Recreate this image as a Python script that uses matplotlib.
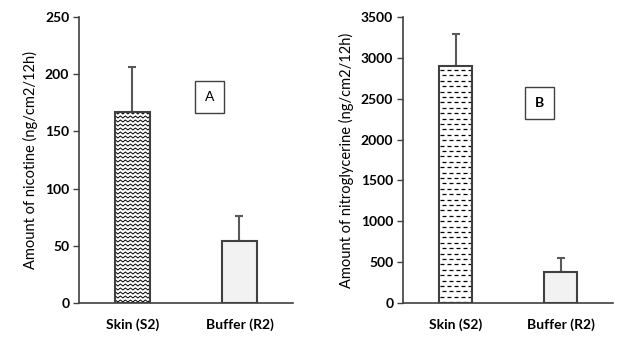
import numpy as np
import matplotlib.pyplot as plt

categories = ['Skin (S2)', 'Buffer (R2)']
nicotine = [167, 54]
nicotine_err = [39, 22]
nitro = [2900, 380]
nitro_err = [390, 170]

plt.rcParams['font.family'] = ['Lato', 'DejaVu Sans']
edge = '#404040'


def zigzag_fill(ax, bar, period=5, dy=4, amp=1.0):
    # zigzag pattern drawn in pixel steps, clipped to the bar
    x0, y0 = ax.transData.transform((bar.get_x(), bar.get_y()))
    x1, y1 = ax.transData.transform((bar.get_x() + bar.get_width(), bar.get_y() + bar.get_height()))
    inv = ax.transData.inverted()
    xs = np.arange(x0 - period, x1 + period, period / 2)
    for yy in np.arange(y0 + 2, y1 + dy, dy):
        ys = yy + amp * np.where(np.arange(len(xs)) % 2 == 0, 1, -1)
        pts = inv.transform(np.column_stack([xs, ys]))
        ln, = ax.plot(pts[:, 0], pts[:, 1], color='black', lw=0.7, zorder=2.5)
        ln.set_clip_path(bar)


def dash_fill(ax, bar, dy=5.4, dash=4, gap=3):
    x0, y0 = ax.transData.transform((bar.get_x(), bar.get_y()))
    x1, y1 = ax.transData.transform((bar.get_x() + bar.get_width(), bar.get_y() + bar.get_height()))
    inv = ax.transData.inverted()
    for i, yy in enumerate(np.arange(y1 - 4, y0, -dy)):
        xs = x0 + 1 + (i % 2) * 2
        while xs < x1:
            p = inv.transform([[xs, yy], [min(xs + dash, x1), yy]])
            ln, = ax.plot(p[:, 0], p[:, 1], color='black', lw=0.9, zorder=2.5,
                          solid_capstyle='butt')
            ln.set_clip_path(bar)
            xs += dash + gap


fig = plt.figure(figsize=(6.29, 3.51), dpi=100)
axA = fig.add_axes([0.1256, 0.1368, 0.3402, 0.8148])
axB = fig.add_axes([0.6407, 0.1368, 0.3339, 0.8148])

for ax, vals, errs, ymax, step, label, tag, tagpos in [
        (axA, nicotine, nicotine_err, 250, 50, 'Amount of nicotine (ng/cm2/12h)', 'A', (0.72, 180)),
        (axB, nitro, nitro_err, 3500, 500, 'Amount of nitroglycerine (ng/cm2/12h)', 'B', (0.8, 2448))]:
    x = np.arange(len(categories))
    ax.bar(x, vals, width=0.32, color=['white', '#f2f2f2'], edgecolor='none', zorder=2)
    ax.bar(x, vals, width=0.32, color='none', edgecolor=edge, linewidth=1.5, zorder=3)
    ax.errorbar(x, vals, yerr=[[0] * len(errs), errs], fmt='none', ecolor='#595959',
                elinewidth=1.5, capsize=3, capthick=1.5, zorder=1)
    ax.set_xlim(-0.5, 1.5)
    ax.set_ylim(0, ymax)
    ax.set_yticks(np.arange(0, ymax + 1, step))
    ax.set_xticks(x)
    ax.set_xticklabels(categories, fontweight='bold', fontsize=10)
    for t in ax.get_yticklabels():
        t.set_fontweight('bold')
        t.set_fontsize(10)
    ax.tick_params(axis='x', length=0, pad=11)
    ax.tick_params(axis='y', length=4, color=edge, width=1, pad=3)
    ax.set_ylabel(label, fontsize=10.5, labelpad=5)
    for s in ['top', 'right']:
        ax.spines[s].set_visible(False)
    for s in ['left', 'bottom']:
        ax.spines[s].set_color(edge)
        ax.spines[s].set_linewidth(1.2)
    ax.text(tagpos[0], tagpos[1], tag, ha='center', va='center', fontsize=10,
            fontweight='bold' if tag == 'B' else 'normal',
            bbox=dict(boxstyle='square,pad=0.7', fc='white', ec=edge, lw=1))

fig.canvas.draw()
zigzag_fill(axA, axA.patches[0])
dash_fill(axB, axB.patches[0])

fig.savefig('out.png', dpi=100)
